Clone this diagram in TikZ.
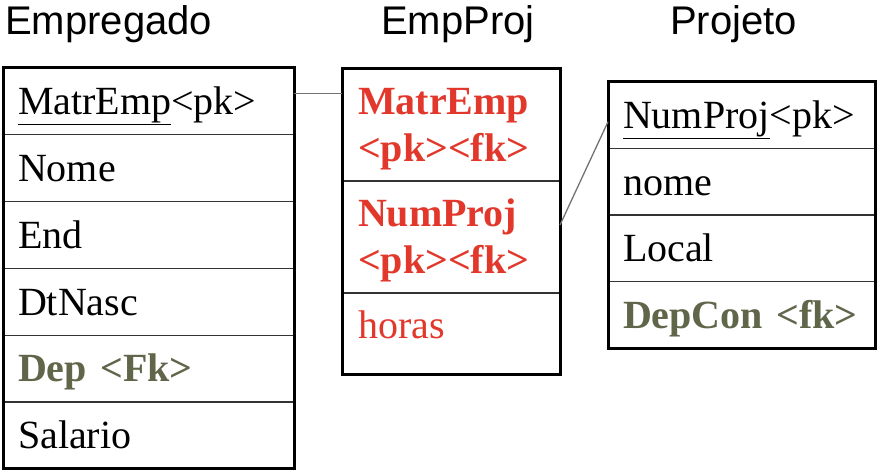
\documentclass[tikz,border=0pt]{standalone}
\usepackage{fontspec}
\setmainfont{Liberation Serif}
\newfontfamily\titlefont{Liberation Sans}
\usetikzlibrary{positioning}
\definecolor{keyred}{RGB}{226,56,44}
\definecolor{fkgreen}{RGB}{96,102,74}

\begin{document}
\begin{tikzpicture}[x=1pt,y=-1pt,
    field/.style={draw=black!80,line width=1.4pt,rectangle,inner xsep=15pt,inner ysep=0pt,outer sep=0pt,
      align=left,text height=26.5pt,text depth=0pt,font=\rmfamily\fontsize{40}{47}\selectfont},
    empfield/.style={field,text width=261pt,minimum height=66.8pt},
    relfield/.style={field,inner xsep=16pt,text width=186pt,minimum height=112pt,text depth=47pt,
      text=keyred,font=\rmfamily\fontsize{40}{47}\selectfont\bfseries},
    projfield/.style={field,text width=237pt,minimum height=66.5pt},
    tabtitle/.style={anchor=base west,inner sep=0pt,font=\titlefont\fontsize{40}{48}\selectfont},
    tabframe/.style={line width=3pt},
    link/.style={draw=black!55,line width=1.3pt}]
  \useasboundingbox (0,0) rectangle (881,476);
  % Empregado
  \node[tabtitle] (tEmp) at (5,35) {Empregado};
  \node[empfield,anchor=north west] (e1) at (3,68) {\underline{MatrEmp}<pk>};
  \node[empfield,below=0pt of e1] (e2) {Nome};
  \node[empfield,below=0pt of e2] (e3) {End};
  \node[empfield,below=0pt of e3] (e4) {DtNasc};
  \node[empfield,below=0pt of e4,text=fkgreen,font=\rmfamily\fontsize{40}{47}\selectfont\bfseries] (e5) {Dep <Fk>};
  \node[empfield,below=0pt of e5] (e6) {Salario};
  \draw[tabframe] (e1.north west) rectangle (e6.south east);
  % EmpProj
  \node[tabtitle] (tEmpProj) at (381,35) {EmpProj};
  \node[relfield,anchor=north west] (ep1) at (342,69) {MatrEmp\\<pk><fk>};
  \node[relfield,below=0pt of ep1] (ep2) {NumProj\\<pk><fk>};
  \node[relfield,below=0pt of ep2,minimum height=81pt,text depth=17.5pt,font=\rmfamily\mdseries\fontsize{40}{47}\selectfont] (ep3) {horas};
  \draw[tabframe] (ep1.north west) rectangle (ep3.south east);
  % Projeto
  \node[tabtitle] (tProj) at (670,35) {Projeto};
  \node[projfield,anchor=north west] (p1) at (608,82) {\underline{NumProj}<pk>};
  \node[projfield,below=0pt of p1] (p2) {nome};
  \node[projfield,below=0pt of p2] (p3) {Local};
  \node[projfield,below=0pt of p3,text=fkgreen,font=\rmfamily\fontsize{40}{47}\selectfont\bfseries] (p4) {DepCon <fk>};
  \draw[tabframe] (p1.north west) rectangle (p4.south east);
  % ligacoes
  \draw[link] ([yshift=8pt]e1.east) -- ([yshift=8pt]e1.east -| ep1.west);
  \draw[link] ([yshift=12pt]ep2.east) -- ([yshift=-6.5pt]p1.west);
\end{tikzpicture}
\end{document}
